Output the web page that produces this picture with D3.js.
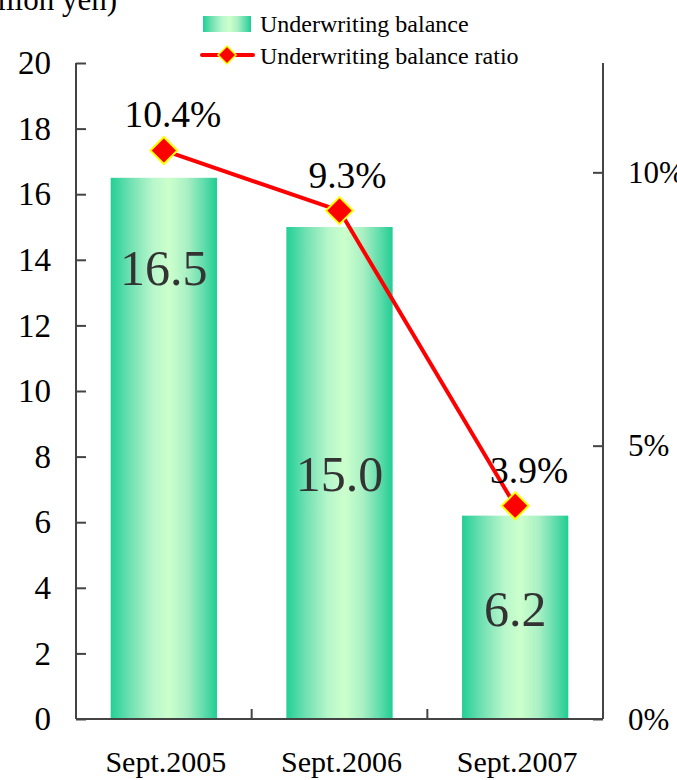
<!DOCTYPE html>
<html>
<head>
<meta charset="utf-8">
<script src="https://cdn.jsdelivr.net/npm/d3@7/dist/d3.min.js"></script>
<style>
  html, body { margin: 0; padding: 0; background: #fff; }
  svg { display: block; }
  svg text { font-family: "Liberation Serif", "Times New Roman", serif; }
</style>
</head>
<body>
<svg id="chart" width="677" height="780"></svg>
<script>
// Underwriting balance (billion yen) and underwriting balance ratio (%)
const categories = ["Sept.2005", "Sept.2006", "Sept.2007"];
const balance = [16.5, 15.0, 6.2];
const ratio = [10.4, 9.3, 3.9];
const leftTicks = [0, 2, 4, 6, 8, 10, 12, 14, 16, 18, 20];
const rightTicks = [0, 5, 10];
const seriesNames = ["Underwriting balance", "Underwriting balance ratio"];
const unitLabel = "(Billion yen)";

const svg = d3.select("#chart");
const plot = { left: 76, right: 603, top: 63, bottom: 719 };
const axisColor = "#444";
const serif = "Liberation Serif";

const x = d3.scaleBand().domain(categories).range([plot.left, plot.right]).paddingInner(0.395).paddingOuter(0.1975);
const xOuter = d3.scaleBand().domain(categories).range([plot.left, plot.right]);
const yL = d3.scaleLinear().domain([0, 20]).range([plot.bottom, plot.top]);
const yR = d3.scaleLinear().domain([0, 12]).range([plot.bottom, plot.top]);

// Cylinder-like horizontal gradient for the bars
const defs = svg.append("defs");
const grad = defs.append("linearGradient").attr("id", "barGrad")
  .attr("x1", "0%").attr("x2", "100%").attr("y1", "0%").attr("y2", "0%");
[[0, "#22cf96"], [0.18, "#6fe0b2"], [0.4, "#b8f7cc"], [0.55, "#ccffcc"], [0.72, "#a9f0c4"], [0.88, "#5fdcab"], [1, "#20cd94"]]
  .forEach(([o, c]) => grad.append("stop").attr("offset", o).attr("stop-color", c));

// Bars
svg.append("g").selectAll("rect").data(categories).join("rect")
  .attr("x", d => x(d))
  .attr("width", x.bandwidth())
  .attr("y", (d, i) => yL(balance[i]))
  .attr("height", (d, i) => yL(0) - yL(balance[i]))
  .attr("fill", "url(#barGrad)");

// Bar value labels
const labelFrac = [0.166, 0.5, 0.455];
svg.append("g").selectAll("text").data(categories).join("text")
  .attr("x", d => x(d) + x.bandwidth() / 2)
  .attr("y", (d, i) => yL(balance[i]) + (yL(0) - yL(balance[i])) * labelFrac[i])
  .attr("dy", "0.35em")
  .attr("text-anchor", "middle")
  .attr("font-family", serif)
  .attr("font-size", 50)
  .attr("fill", "#333")
  .text((d, i) => balance[i].toFixed(1));

// Left axis
const gl = svg.append("g").attr("transform", `translate(${plot.left},0)`)
  .call(d3.axisRight(yL).tickValues(leftTicks).tickSize(10).tickFormat(""));
gl.select(".domain").attr("stroke", axisColor).attr("stroke-width", 2).attr("d", `M0,${plot.top}V${plot.bottom}`);
gl.selectAll(".tick line").attr("stroke", axisColor).attr("stroke-width", 2);
svg.append("g").selectAll("text").data(leftTicks).join("text")
  .attr("x", 51).attr("y", d => yL(d)).attr("dy", "0.34em")
  .attr("text-anchor", "end").attr("font-family", serif).attr("font-size", 33).attr("fill", "#000")
  .text(d => d);

// Right axis
const gr = svg.append("g").attr("transform", `translate(${plot.right},0)`)
  .call(d3.axisLeft(yR).tickValues(rightTicks).tickSize(10).tickFormat(""));
gr.select(".domain").attr("stroke", axisColor).attr("stroke-width", 2).attr("d", `M0,${plot.top}V${plot.bottom}`);
gr.selectAll(".tick line").attr("stroke", axisColor).attr("stroke-width", 2);
svg.append("g").selectAll("text").data(rightTicks).join("text")
  .attr("x", 628).attr("y", d => yR(d)).attr("dy", "0.34em")
  .attr("text-anchor", "start").attr("font-family", serif).attr("font-size", 31).attr("fill", "#000")
  .text(d => d + "%");

// Bottom axis with ticks between categories
const gb = svg.append("g").attr("transform", `translate(0,${plot.bottom})`);
gb.append("line").attr("x1", plot.left).attr("x2", plot.right).attr("stroke", axisColor).attr("stroke-width", 2);
gb.selectAll("line.sep").data(categories.slice(1)).join("line").attr("class", "sep")
  .attr("x1", d => xOuter(d)).attr("x2", d => xOuter(d))
  .attr("y1", 0).attr("y2", -10).attr("stroke", axisColor).attr("stroke-width", 2);
svg.append("g").selectAll("text").data(categories).join("text")
  .attr("x", d => xOuter(d) + xOuter.bandwidth() / 2 + 2)
  .attr("y", 772)
  .attr("text-anchor", "middle").attr("font-family", serif).attr("font-size", 30).attr("fill", "#000")
  .text(d => d);

// Ratio line
const cx = d => x(d) + x.bandwidth() / 2;
const line = d3.line().x(d => cx(d)).y((d, i) => yR(ratio[i]));
svg.append("path").datum(categories)
  .attr("d", line)
  .attr("fill", "none").attr("stroke", "#ff0000").attr("stroke-width", 4);

const diamond = r => `M0,${-r}L${r},0L0,${r}L${-r},0Z`;
svg.append("g").selectAll("path").data(categories).join("path")
  .attr("transform", (d, i) => `translate(${cx(d)},${yR(ratio[i])})`)
  .attr("d", diamond(13.5))
  .attr("fill", "#ff0000").attr("stroke", "#ffff00").attr("stroke-width", 2);

const pctDx = [9, 8, 14];
svg.append("g").selectAll("text").data(categories).join("text")
  .attr("x", (d, i) => cx(d) + pctDx[i])
  .attr("y", (d, i) => yR(ratio[i]) - 23)
  .attr("text-anchor", "middle").attr("font-family", serif).attr("font-size", 37.5).attr("fill", "#000")
  .text((d, i) => ratio[i].toFixed(1) + "%");

// Unit label (partly off the left edge)
svg.append("text").attr("x", 117).attr("y", 10)
  .attr("text-anchor", "end").attr("font-family", serif).attr("font-size", 31).attr("fill", "#000")
  .text(unitLabel);

// Legend
const lg = svg.append("g");
lg.append("rect").attr("x", 203).attr("y", 16).attr("width", 48).attr("height", 16).attr("fill", "url(#barGrad)");
lg.append("text").attr("x", 260).attr("y", 32).attr("font-family", serif).attr("font-size", 24).attr("fill", "#000").text(seriesNames[0]);
lg.append("line").attr("x1", 202).attr("x2", 253).attr("y1", 55).attr("y2", 55)
  .attr("stroke", "#ff0000").attr("stroke-width", 4).attr("stroke-linecap", "round");
lg.append("path").attr("transform", "translate(227,55)").attr("d", diamond(9))
  .attr("fill", "#ff0000").attr("stroke", "#ffff00").attr("stroke-width", 1.5);
lg.append("text").attr("x", 260).attr("y", 64).attr("font-family", serif).attr("font-size", 24).attr("fill", "#000").text(seriesNames[1]);
</script>
</body>
</html>
